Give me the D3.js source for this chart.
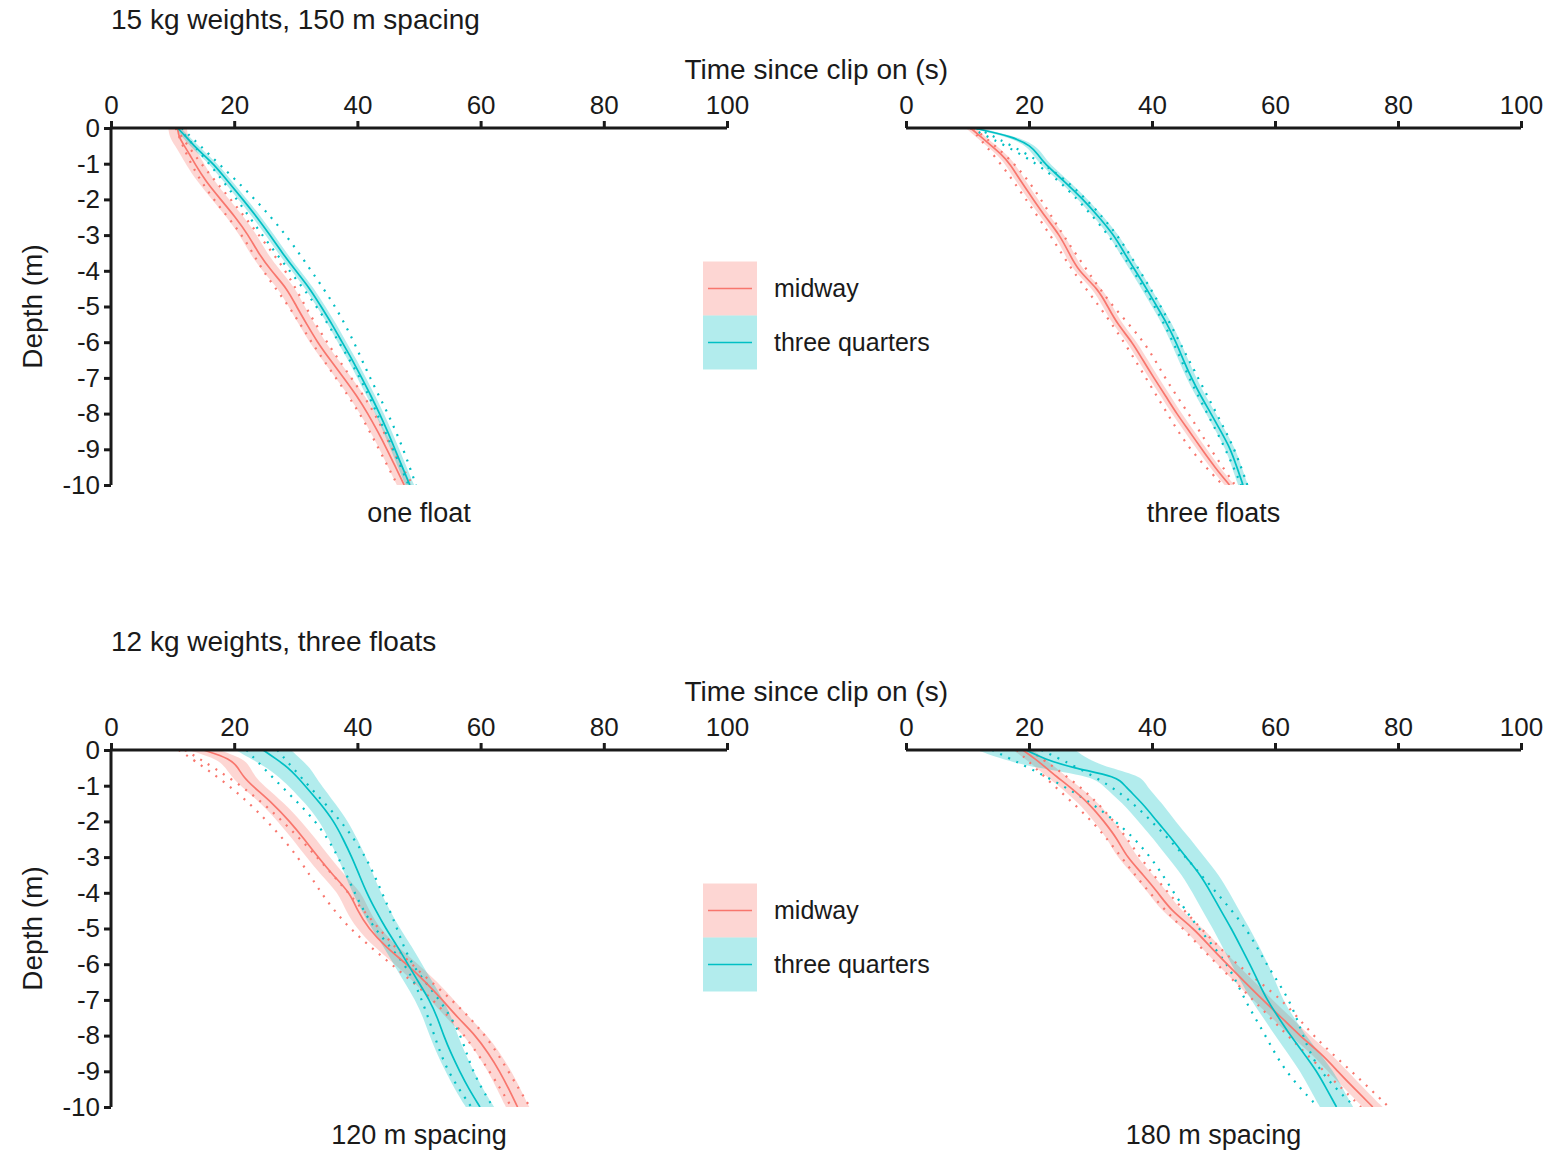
<!DOCTYPE html>
<html>
<head>
<meta charset="utf-8">
<script src="https://cdn.jsdelivr.net/npm/d3@7"></script>
<style>
  body { margin: 0; background: #fff; }
  text { font-family: "Liberation Sans", Arial, sans-serif; fill: #1a1a1a; }
</style>
</head>
<body>
<svg id="chart" width="1565" height="1150"></svg>
<script>
// depth grid shared by all smoothed lines (m)
var depths = [0, -0.25, -0.5, -0.75, -1, -1.5, -2, -2.5, -3, -3.5, -4, -4.5, -5,
              -5.5, -6, -6.5, -7, -7.5, -8, -8.5, -9, -9.5, -10];
// depth grid for the individual drops (dotted traces)
var dropDepths = [0, -1, -2, -3, -4, -5, -6, -7, -8, -9, -10];

var xTicks = [0, 20, 40, 60, 80, 100];
var yTicks = [0, -1, -2, -3, -4, -5, -6, -7, -8, -9, -10];
var positions = ["midway", "three quarters"];
var colours = ["#F8766D", "#00BFC4"];
var groupTitles = ["15 kg weights, 150 m spacing", "12 kg weights, three floats"];
var panelLabels = ["one float", "three floats", "120 m spacing", "180 m spacing"];

// ---- one float ----
var oneMidMean = [10.8, 11.0, 11.9, 12.8, 13.6, 15.4, 17.8, 20.2, 22.3, 23.9, 26.0, 28.6, 30.1,
                  31.8, 33.5, 35.6, 37.8, 39.9, 41.7, 43.3, 44.8, 46.2, 47.6];
var oneMidBand = [1.5, 1.5, 1.5, 1.5, 1.5, 1.4, 1.4, 1.4, 1.4, 1.4, 1.5, 1.4, 1.3,
                  1.3, 1.3, 1.3, 1.3, 1.3, 1.3, 1.2, 1.2, 1.2, 1.2];
var oneMidDrops = [[10.5, 14.5, 19.5, 24.0, 28.5, 31.5, 35.0, 39.0, 43.0, 45.5, 49.0],
                   [10.5, 12.8, 16.5, 21.5, 24.5, 29.0, 32.5, 36.5, 40.5, 43.5, 46.5]];
var oneTqMean = [10.8, 12.2, 13.5, 15.0, 16.6, 19.0, 21.4, 23.7, 25.8, 27.8, 30.0, 32.3, 34.1,
                 35.9, 37.5, 39.2, 40.7, 42.2, 43.6, 44.9, 46.1, 47.3, 48.5];
var oneTqBand = [0.5, 0.6, 0.7, 0.7, 0.7, 0.7, 0.7, 0.7, 0.7, 0.7, 0.7, 0.7, 0.7,
                 0.7, 0.7, 0.7, 0.7, 0.7, 0.7, 0.7, 0.7, 0.7, 0.7];
var oneTqDrops = [[11.5, 17.5, 23.5, 28.5, 32.5, 36.5, 39.5, 42.0, 45.0, 47.5, 49.5],
                  [11.0, 16.0, 20.5, 24.5, 29.0, 33.5, 37.0, 40.5, 43.2, 45.8, 48.3]];

// ---- three floats ----
var threeMidMean = [10.5, 12.2, 13.9, 15.6, 16.9, 18.7, 20.7, 22.7, 25.0, 26.5, 28.0, 31.2, 32.8,
                    34.4, 36.8, 38.5, 40.3, 42.2, 44.0, 46.1, 48.1, 50.2, 52.6];
var threeMidBand = [0.8, 0.8, 0.8, 0.8, 0.8, 0.8, 0.8, 0.8, 0.8, 0.8, 0.8, 0.8, 0.8,
                    0.8, 0.8, 0.8, 0.8, 0.8, 0.8, 0.8, 0.8, 0.8, 0.8];
var threeMidDrops = [[11.0, 18.0, 22.0, 25.5, 29.5, 33.5, 39.0, 42.0, 46.0, 49.5, 53.5],
                     [10.5, 15.5, 19.5, 23.5, 27.0, 31.5, 35.5, 39.0, 42.5, 46.0, 51.5]];
var threeTqMean = [11.0, 17.5, 20.3, 21.5, 22.5, 25.8, 28.8, 31.4, 33.8, 35.5, 37.3, 39.1, 40.8,
                   42.5, 43.9, 45.1, 46.4, 47.9, 49.6, 51.2, 52.8, 53.8, 54.8];
var threeTqBand = [0.8, 0.8, 0.8, 0.8, 0.8, 0.8, 0.8, 0.8, 0.8, 0.8, 0.8, 0.8, 0.8,
                   0.8, 0.8, 0.8, 0.8, 0.8, 0.8, 0.8, 0.8, 0.8, 0.8];
var threeTqDrops = [[11.5, 23.0, 29.5, 34.5, 38.0, 41.5, 44.5, 47.5, 50.5, 53.5, 55.5],
                    [10.5, 22.0, 28.0, 33.0, 37.0, 40.5, 43.5, 46.0, 49.0, 52.0, 54.5]];

// ---- 120 m spacing ----
var m120MidMean = [15.0, 19.5, 20.6, 21.5, 22.9, 26.3, 29.0, 31.4, 33.6, 36.0, 38.8, 40.0, 41.8,
                   44.5, 48.0, 51.1, 53.8, 56.3, 59.2, 61.3, 63.1, 64.6, 66.0];
var m120MidBand = [2.5, 2.2, 2.0, 1.9, 1.9, 1.9, 1.9, 1.9, 1.9, 1.9, 1.9, 1.9, 1.9,
                   1.9, 1.9, 1.9, 1.9, 1.9, 1.9, 1.9, 1.9, 1.9, 1.9];
var m120MidDrops = [[12.0, 21.5, 28.0, 33.5, 38.5, 43.5, 48.5, 55.5, 61.0, 64.5, 68.0],
                    [11.0, 19.5, 25.5, 30.5, 34.0, 38.5, 45.5, 52.5, 57.5, 61.5, 65.0]];
var m120TqMean = [24.7, 26.8, 28.8, 30.2, 31.5, 34.0, 36.2, 37.7, 39.1, 40.3, 41.5, 43.0, 44.6,
                  46.5, 48.2, 49.9, 51.7, 53.0, 54.0, 55.2, 56.6, 58.1, 59.9];
var m120TqBand = [4.5, 4.0, 3.5, 3.0, 2.7, 2.4, 2.3, 2.3, 2.3, 2.3, 2.3, 2.3, 2.3,
                  2.3, 2.3, 2.3, 2.3, 2.3, 2.3, 2.3, 2.3, 2.3, 2.3];
var m120TqDrops = [[27.0, 32.0, 37.5, 41.5, 44.0, 46.5, 48.5, 53.5, 57.0, 58.5, 62.0],
                   [22.0, 27.5, 33.5, 37.0, 39.5, 42.5, 48.0, 50.5, 52.5, 54.5, 58.5]];

// ---- 180 m spacing ----
var m180MidMean = [19.0, 21.0, 22.8, 24.5, 26.4, 29.8, 32.2, 34.4, 35.9, 38.6, 41.0, 43.1, 46.8,
                   49.4, 52.2, 55.1, 58.0, 61.1, 64.0, 67.5, 70.2, 73.0, 75.9];
var m180MidBand = [1.6, 1.6, 1.6, 1.6, 1.6, 1.6, 1.6, 1.6, 1.6, 1.6, 1.6, 1.6, 1.6,
                   1.6, 1.6, 1.6, 1.6, 1.6, 1.6, 1.6, 1.6, 1.6, 1.6];
var m180MidDrops = [[20.0, 28.5, 34.0, 38.0, 42.5, 48.0, 53.5, 61.5, 66.0, 72.5, 78.5],
                    [18.0, 24.0, 30.5, 35.0, 39.5, 45.0, 50.5, 56.5, 62.0, 68.0, 74.0]];
var m180TqMean = [19.5, 22.5, 27.0, 34.5, 35.5, 38.5, 40.8, 43.3, 45.5, 47.9, 49.6, 51.2, 52.9,
                  54.4, 55.9, 57.3, 58.7, 60.6, 62.5, 64.7, 66.8, 68.4, 70.0];
var m180TqBand = [8.0, 7.0, 6.0, 4.0, 3.5, 3.2, 3.0, 3.0, 3.0, 3.0, 3.0, 3.0, 3.0,
                  3.0, 3.0, 2.8, 2.6, 2.5, 2.5, 2.6, 2.7, 2.7, 2.7];
var m180TqDrops = [[22.0, 34.0, 40.0, 45.5, 50.5, 55.5, 58.5, 62.5, 64.5, 67.0, 73.0],
                   [14.0, 26.0, 34.5, 40.0, 43.5, 47.5, 52.5, 55.0, 58.5, 61.5, 67.0]];

var panelData = [
  [[oneMidMean, oneMidBand, oneMidDrops], [oneTqMean, oneTqBand, oneTqDrops]],
  [[threeMidMean, threeMidBand, threeMidDrops], [threeTqMean, threeTqBand, threeTqDrops]],
  [[m120MidMean, m120MidBand, m120MidDrops], [m120TqMean, m120TqBand, m120TqDrops]],
  [[m180MidMean, m180MidBand, m180MidDrops], [m180TqMean, m180TqBand, m180TqDrops]]
];

var svg = d3.select("#chart");
var tickFs = 26, titleFs = 28, labelFs = 27, legendFs = 25;

var colX = [[111, 727], [906, 1521]];
var rowY = [[128, 485], [750, 1107]];

function drawPanel(p) {
  var col = p % 2, row = Math.floor(p / 2);
  var x = d3.scaleLinear().domain([0, 100]).range(colX[col]);
  var y = d3.scaleLinear().domain([0, -10]).range(rowY[row]);
  var g = svg.append("g");
  var clipId = "clip" + p;
  svg.append("clipPath").attr("id", clipId).append("rect")
    .attr("x", colX[col][0]).attr("y", rowY[row][0])
    .attr("width", colX[col][1] - colX[col][0] + 40)
    .attr("height", rowY[row][1] - rowY[row][0]);
  var plot = g.append("g").attr("clip-path", "url(#" + clipId + ")");

  // confidence ribbons
  panelData[p].forEach(function (s, k) {
    var mean = s[0], band = s[1];
    var pts = depths.map(function (d, i) { return { d: d, t: mean[i], w: band[i] }; });
    var area = d3.area().curve(d3.curveBasis)
      .y(function (e) { return y(e.d); })
      .x0(function (e) { return x(e.t - e.w); })
      .x1(function (e) { return x(e.t + e.w); });
    plot.append("path").attr("d", area(pts))
      .attr("fill", colours[k]).attr("fill-opacity", 0.3);
  });
  // individual drops, dotted
  panelData[p].forEach(function (s, k) {
    var dl = d3.line().curve(d3.curveBasis)
      .x(function (e) { return x(e.t); }).y(function (e) { return y(e.d); });
    s[2].forEach(function (tr) {
      var pts = dropDepths.map(function (d, i) { return { d: d, t: tr[i] }; });
      plot.append("path").attr("d", dl(pts)).attr("fill", "none")
        .attr("stroke", colours[k]).attr("stroke-width", 2.2)
        .attr("stroke-dasharray", "2,7");
    });
  });
  // mean lines
  panelData[p].forEach(function (s, k) {
    var mean = s[0];
    var pts = depths.map(function (d, i) { return { d: d, t: mean[i] }; });
    var line = d3.line().curve(d3.curveBasis)
      .x(function (e) { return x(e.t); }).y(function (e) { return y(e.d); });
    plot.append("path").attr("d", line(pts)).attr("fill", "none")
      .attr("stroke", colours[k]).attr("stroke-width", 1.7);
  });

  // x axis on top
  var xa = g.append("g").attr("transform", "translate(0," + rowY[row][0] + ")")
    .call(d3.axisTop(x).tickValues(xTicks).tickSize(7).tickPadding(7).tickFormat(d3.format("d")));
  xa.select(".domain").attr("stroke", "#1a1a1a").attr("stroke-width", 3)
    .attr("d", "M" + colX[col][0] + ",0H" + colX[col][1]);
  xa.selectAll(".tick line").attr("stroke", "#1a1a1a").attr("stroke-width", 3);
  xa.selectAll("text").style("font-size", tickFs + "px").attr("fill", "#1a1a1a");
  xa.attr("font-family", null);

  if (col === 0) {
    var ya = g.append("g").attr("transform", "translate(" + colX[0][0] + ",0)")
      .call(d3.axisLeft(y).tickValues(yTicks).tickSize(7).tickPadding(4).tickFormat(d3.format("d")));
    ya.select(".domain").attr("stroke", "#1a1a1a").attr("stroke-width", 3)
      .attr("d", "M0," + rowY[row][0] + "V" + rowY[row][1]);
    ya.selectAll(".tick line").attr("stroke", "#1a1a1a").attr("stroke-width", 3);
    ya.selectAll("text").style("font-size", tickFs + "px").attr("fill", "#1a1a1a")
      .text(function (d) { return d === 0 ? "0" : "-" + Math.abs(d); });
    ya.attr("font-family", null);
  }

  g.append("text").attr("x", (colX[col][0] + colX[col][1]) / 2).attr("y", rowY[row][1] + 37)
    .attr("text-anchor", "middle").style("font-size", labelFs + "px").text(panelLabels[p]);
}

[0, 1, 2, 3].forEach(drawPanel);

[0, 1].forEach(function (row) {
  var top = rowY[row][0];
  svg.append("text").attr("x", 111).attr("y", top - 99).style("font-size", titleFs + "px")
    .text(groupTitles[row]);
  svg.append("text").attr("x", (colX[0][0] + colX[0][1] + colX[1][0] + colX[1][1]) / 4)
    .attr("y", top - 49).attr("text-anchor", "middle").style("font-size", titleFs + "px")
    .text("Time since clip on (s)");
  var cy = (rowY[row][0] + rowY[row][1]) / 2;
  svg.append("text").attr("transform", "translate(42," + cy + ") rotate(-90)")
    .attr("text-anchor", "middle").style("font-size", titleFs + "px").text("Depth (m)");

  // legend
  var lg = svg.append("g").attr("transform", "translate(703," + (cy - 45) + ")");
  positions.forEach(function (name, k) {
    lg.append("rect").attr("x", 0).attr("y", k * 54).attr("width", 54).attr("height", 54)
      .attr("fill", colours[k]).attr("fill-opacity", 0.3);
    lg.append("line").attr("x1", 5).attr("x2", 49).attr("y1", k * 54 + 27).attr("y2", k * 54 + 27)
      .attr("stroke", colours[k]).attr("stroke-width", 1.7);
    lg.append("text").attr("x", 71).attr("y", k * 54 + 27).attr("dy", "0.35em")
      .style("font-size", legendFs + "px").text(name);
  });
});
</script>
</body>
</html>
